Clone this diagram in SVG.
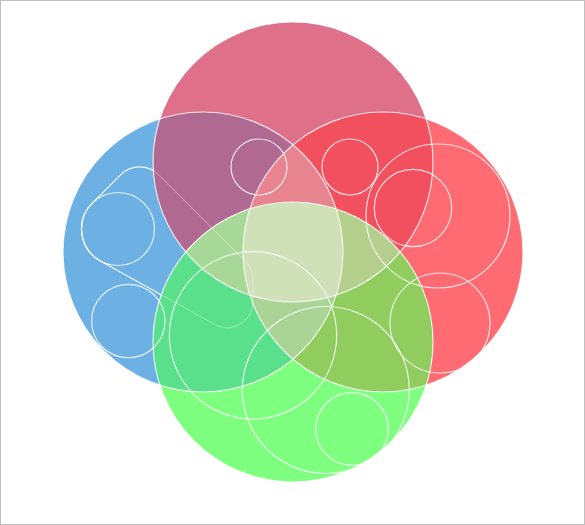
<svg xmlns="http://www.w3.org/2000/svg" width="585" height="525" viewBox="0 0 585 525">
<style>
.ol{fill:none;stroke:#fff;stroke-opacity:.8;stroke-width:1.2}
.faint{fill:none;stroke:#fff;stroke-opacity:.28;stroke-width:1.2}
</style>
<defs>
<clipPath id="cB"><circle cx="203" cy="252" r="140"/></clipPath>
<clipPath id="cR"><circle cx="383" cy="252" r="140"/></clipPath>
<clipPath id="cP"><circle cx="293" cy="162" r="140"/></clipPath>
<clipPath id="cG"><circle cx="293" cy="342" r="140"/></clipPath>
<path id="pill" d="M158.8,174.8 L245,261 Q253,269 253,280 L253,300 C253,322 232,334 214,324 L100.3,260.9 A36.5 36.5 0 0 1 92.2,203.2 L120.6,174.8 A27 27 0 0 1 158.8,174.8 Z"/>
</defs>
<rect x="0.5" y="0.5" width="584" height="524" fill="#fff" stroke="#bfbfbf" stroke-width="1"/>
<g id="regions">
<circle id="blue" cx="203" cy="252" r="140" fill="#6DB0E4"/>
<use href="#pill" class="ol"/>
<circle id="red" cx="383" cy="252" r="140" fill="#FF6B72"/>
<circle id="pink" cx="293" cy="162" r="140" fill="#DE7089"/>
<circle id="green" cx="293" cy="342" r="140" fill="#7FFF7F"/>
<g clip-path="url(#cB)"><circle cx="293" cy="162" r="140" fill="#B06A92"/></g>
<g clip-path="url(#cR)"><circle cx="293" cy="162" r="140" fill="#F2505F"/></g>
<g clip-path="url(#cB)"><circle cx="293" cy="342" r="140" fill="#5AE08A"/></g>
<g clip-path="url(#cR)"><circle cx="293" cy="342" r="140" fill="#90CC5E"/></g>
<g clip-path="url(#cB)"><g clip-path="url(#cR)"><circle cx="293" cy="162" r="140" fill="#E8848F"/></g></g>
<g clip-path="url(#cB)"><g clip-path="url(#cR)"><circle cx="293" cy="342" r="140" fill="#AAD496"/></g></g>
<g clip-path="url(#cB)"><g clip-path="url(#cP)"><circle cx="293" cy="342" r="140" fill="#A8D898"/></g></g>
<g clip-path="url(#cR)"><g clip-path="url(#cP)"><circle cx="293" cy="342" r="140" fill="#B4CF8C"/></g></g>
<g clip-path="url(#cB)"><g clip-path="url(#cR)"><g clip-path="url(#cP)"><circle cx="293" cy="342" r="140" fill="#D0E0B8"/></g></g></g>
</g>
<g id="connectors">
<use href="#pill" class="faint"/>
</g>
<g id="outlines">
<circle class="ol" cx="203" cy="252" r="140"/>
<circle class="ol" cx="383" cy="252" r="140"/>
<circle class="ol" cx="293" cy="162" r="140"/>
<circle class="ol" cx="293" cy="342" r="140"/>
</g>
<g id="node-a"><circle class="ol" cx="259" cy="167" r="28"/></g>
<g id="node-b"><circle class="ol" cx="118" cy="229" r="36.5"/></g>
<g id="node-c"><circle class="ol" cx="128.3" cy="321" r="36.7"/></g>
<g id="node-e"><circle class="ol" cx="350" cy="167" r="28"/></g>
<g id="node-f"><circle class="ol" cx="413" cy="208" r="38.7"/></g>
<g id="node-g"><circle class="ol" cx="438" cy="216" r="72"/></g>
<g id="node-h"><circle class="ol" cx="440" cy="323" r="50"/></g>
<g id="node-i"><circle class="ol" cx="253" cy="335.3" r="83.7"/></g>
<g id="node-j"><circle class="ol" cx="325.8" cy="390" r="83.5"/></g>
<g id="node-k"><circle class="ol" cx="352" cy="429" r="36.3"/></g>
</svg>
